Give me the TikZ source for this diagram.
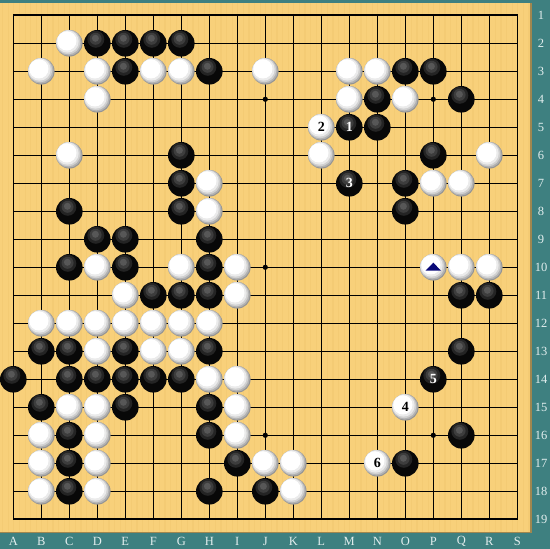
\documentclass[tikz,border=0pt]{standalone}
\usepackage{fontspec}
\setmainfont{Liberation Serif}
\definecolor{frame}{RGB}{62,128,128}
\definecolor{wood}{RGB}{248,208,122}
\definecolor{grain}{RGB}{236,192,104}
\definecolor{labeltext}{RGB}{226,238,238}
\definecolor{navy}{RGB}{10,10,120}
\tikzset{
  gridline/.style = {line width=.8pt},
  border/.style = {line width=1.6pt},
  stone/.style = {circle, inner sep=0pt, minimum size=26.6pt},
  blackstone/.style = {stone, fill=black!97, text=white, path picture={
    \fill [black!86] (path picture bounding box.center) ++(-1.5pt,4pt) circle (8.5pt);
    \fill [black!76] (path picture bounding box.center) ++(-1.7pt,4.5pt) circle (6pt);
    \fill [black!66] (path picture bounding box.center) ++(-1.9pt,5pt) circle (3.5pt);}},
  whitestone/.style = {stone, fill=white!58!black, text=black, path picture={
    \fill [white!70!black] (path picture bounding box.center) ++(-0.6pt,0.6pt) circle (13pt);
    \fill [white!82!black] (path picture bounding box.center) ++(-1.2pt,1.2pt) circle (12.2pt);
    \fill [white!92!black] (path picture bounding box.center) ++(-1.8pt,1.8pt) circle (11.2pt);
    \fill [white] (path picture bounding box.center) ++(-2.4pt,2.4pt) circle (9.6pt);}},
  movenum/.style = {font=\bfseries\fontsize{14}{14}\selectfont},
  coordlabel/.style = {text=labeltext, font=\fontsize{12.5}{12.5}\selectfont, inner sep=0pt}
}
\begin{document}
\begin{tikzpicture}[x = 28pt, y = -28pt]
		\useasboundingbox (0.525,0.454) rectangle (20.168,20.06);
		\fill [frame] (0.525,0.454) rectangle (20.168,20.06);
		\fill [wood] (0.525,0.56) rectangle (19.49,19.48);
		\foreach \k in {0,...,94}
			\fill [grain, opacity=.3] (0.6+\k*0.2,0.56) rectangle (0.64+\k*0.2,19.48);
		\draw [line width=1.4pt, wood!65!black] (19.49,0.56) -- (19.49,19.48) -- (0.525,19.48);
		
		% board
		\foreach \i in {1,...,19} {
			\draw [gridline] (\i,1) -- (\i,19);
			\draw [gridline] (1,\i) -- (19,\i);
		}
		\draw [border] (1,1) rectangle (19,19);
		\foreach \c in {4,10,16}
			\foreach \r in {4,10,16}
				\fill (\c,\r) circle (2.6pt);
		
		% coordinates
		\foreach \l [count=\i] in {A,B,C,D,E,F,G,H,I,J,K,L,M,N,O,P,Q,R,S}
			\node (col-\l) at (\i,19.78) [coordlabel] {\l};
		\foreach \r in {1,...,19}
			\node (row-\r) at (19.85,\r) [coordlabel] {\r};
		
		% black stones (column/row)
		\foreach \c/\r in {4/2,5/2,6/2,7/2, 5/3,8/3,15/3,16/3, 14/4,17/4, 14/5,
			7/6,16/6, 7/7,15/7, 3/8,7/8,15/8, 4/9,5/9,8/9, 3/10,5/10,8/10,
			6/11,7/11,8/11,17/11,18/11, 2/13,3/13,5/13,8/13,17/13,
			1/14,3/14,4/14,5/14,6/14,7/14, 2/15,5/15,8/15, 3/16,8/16,17/16,
			3/17,9/17,15/17, 3/18,8/18,10/18}
			\node (b-\c-\r) at (\c,\r) [blackstone] {};
		
		% white stones
		\foreach \c/\r in {3/2, 2/3,4/3,6/3,7/3,10/3,13/3,14/3, 4/4,13/4,15/4,
			3/6,12/6,18/6, 8/7,16/7,17/7, 8/8,
			4/10,7/10,9/10,16/10,17/10,18/10, 5/11,9/11,
			2/12,3/12,4/12,5/12,6/12,7/12,8/12, 4/13,6/13,7/13, 8/14,9/14,
			3/15,4/15,9/15, 2/16,4/16,9/16, 2/17,4/17,10/17,11/17, 2/18,4/18,11/18}
			\node (w-\c-\r) at (\c,\r) [whitestone] {};
		
		% marked stone
		\fill [navy] (w-16-10) ++(0,-0.165) -- ++(0.275,0.285) -- ++(-0.55,0) -- cycle;
		
		% numbered moves
		\node (m1) at (13,5) [blackstone, movenum] {1};
		\node (m2) at (12,5) [whitestone, movenum] {2};
		\node (m3) at (13,7) [blackstone, movenum] {3};
		\node (m4) at (15,15) [whitestone, movenum] {4};
		\node (m5) at (16,14) [blackstone, movenum] {5};
		\node (m6) at (14,17) [whitestone, movenum] {6};
		\end{tikzpicture}
\end{document}
